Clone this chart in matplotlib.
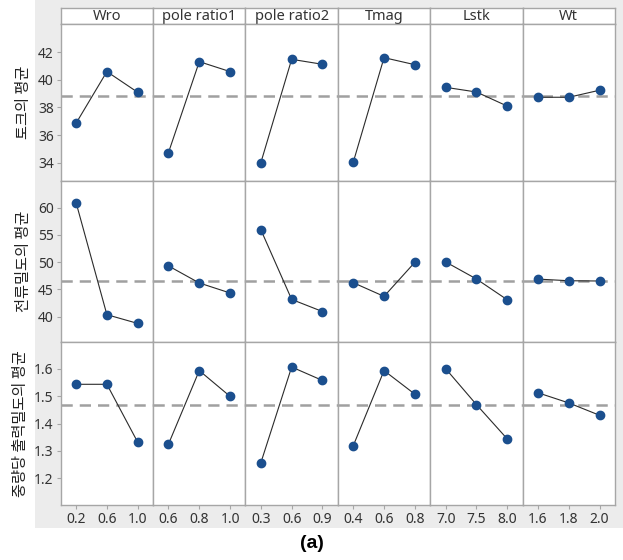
import matplotlib
matplotlib.use("Agg")
import matplotlib.pyplot as plt
from matplotlib.patches import Rectangle

plt.rcParams['font.family'] = ['Noto Sans', 'Noto Sans CJK KR', 'DejaVu Sans']

# ---------------- data ----------------
factors = ["Wro", "pole ratio1", "pole ratio2", "Tmag", "Lstk", "Wt"]
levels = [
    ["0.2", "0.6", "1.0"],
    ["0.6", "0.8", "1.0"],
    ["0.3", "0.6", "0.9"],
    ["0.4", "0.6", "0.8"],
    ["7.0", "7.5", "8.0"],
    ["1.6", "1.8", "2.0"],
]
row_labels = ["토크의 평균", "전류밀도의 평균", "중량당 출력밀도의 평균"]

torque_means = [
    [36.86, 40.60, 39.10],
    [34.73, 41.32, 40.60],
    [34.00, 41.49, 41.13],
    [34.03, 41.61, 41.10],
    [39.46, 39.12, 38.10],
    [38.74, 38.74, 39.25],
]
current_means = [
    [60.92, 40.37, 38.77],
    [49.32, 46.19, 44.35],
    [55.95, 43.17, 40.95],
    [46.24, 43.73, 49.98],
    [50.05, 46.92, 43.11],
    [46.90, 46.60, 46.55],
]
power_means = [
    [1.543, 1.543, 1.332],
    [1.325, 1.593, 1.499],
    [1.257, 1.606, 1.557],
    [1.319, 1.593, 1.507],
    [1.600, 1.469, 1.344],
    [1.512, 1.475, 1.430],
]
grand_means = [38.83, 46.60, 1.469]
y_ticks = [[34, 36, 38, 40, 42], [40, 45, 50, 55, 60], [1.2, 1.3, 1.4, 1.5, 1.6]]
y_limits = [(32.67, 44.05), (35.45, 64.9), (1.103, 1.699)]
y_fmt = ["{:.0f}", "{:.0f}", "{:.1f}"]
all_rows = [torque_means, current_means, power_means]

# ---------------- layout ----------------
W, H = 623, 560
fig = plt.figure(figsize=(W / 100, H / 100), dpi=100)
fig.patch.set_facecolor("white")

# gray Minitab-like background region
bg = Rectangle((35 / W, 1 - 528 / H), (623 - 35) / W, 528 / H,
               transform=fig.transFigure, facecolor="#ececec",
               edgecolor="none", zorder=-10)
fig.patches.append(bg)

left, right = 60.7, 615.0
col_w = (right - left) / 6
strip_top, strip_bot = 8.0, 24.0
row_edges = [24.0, 181.0, 341.5, 505.0]

border = "#a6a6a6"
marker_c = "#1b4f8e"
line_c = "#2b2b2b"
mean_c = "#a0a0a0"
text_c = "#333333"


def fig_rect(x0, y0, x1, y1):
    return [x0 / W, 1 - y1 / H, (x1 - x0) / W, (y1 - y0) / H]


for c, name in enumerate(factors):
    x0 = left + c * col_w
    x1 = x0 + col_w
    sax = fig.add_axes(fig_rect(x0, strip_top, x1, strip_bot))
    sax.set_facecolor("white")
    sax.set_xticks([])
    sax.set_yticks([])
    for s in sax.spines.values():
        s.set_color(border)
        s.set_linewidth(1.0)
    sax.text(0.5, 0.45, name, ha="center", va="center", fontsize=10.5,
             color=text_c, transform=sax.transAxes)

label_axes = []
for r in range(3):
    y0, y1 = row_edges[r], row_edges[r + 1]
    for c in range(6):
        x0 = left + c * col_w
        x1 = x0 + col_w
        ax = fig.add_axes(fig_rect(x0, y0, x1, y1))
        ax.set_facecolor("white")
        vals = all_rows[r][c]
        xs = list(range(len(vals)))
        ax.axhline(grand_means[r], color=mean_c, lw=1.8, ls=(0, (4.5, 2.8)), zorder=1)
        ax.plot(xs, vals, color=line_c, lw=0.8, zorder=2)
        ax.plot(xs, vals, ls="none", marker="o", ms=6, color=marker_c,
                markeredgecolor=marker_c, zorder=3)
        ax.set_xlim(-0.5, 2.5)
        ax.set_ylim(*y_limits[r])
        for s in ax.spines.values():
            s.set_color(border)
            s.set_linewidth(1.0)
        ax.set_yticks(y_ticks[r])
        if c == 0:
            ax.set_yticklabels([y_fmt[r].format(v) for v in y_ticks[r]],
                               fontsize=10, color=text_c)
            ax.tick_params(axis="y", length=3, width=0.8, color=border, pad=2)
            ax.set_ylabel(row_labels[r], fontsize=11, color="#222222",
                          family=['Noto Sans CJK KR', 'DejaVu Sans'], labelpad=4)
            label_axes.append(ax)
        else:
            ax.tick_params(axis="y", length=0, labelleft=False)
        ax.set_xticks(xs)
        if r == 2:
            ax.set_xticklabels(levels[c], fontsize=10, color=text_c)
            ax.tick_params(axis="x", length=3, width=0.8, color=border, pad=2)
        else:
            ax.tick_params(axis="x", length=0, labelbottom=False)

fig.align_ylabels(label_axes)

fig.text(312 / W, 1 - 543 / H, "(a)", ha="center", va="center",
         fontsize=14, fontweight="bold", family=['Liberation Sans', 'DejaVu Sans'],
         color="black")

fig.savefig("out.png", dpi=100, facecolor=fig.get_facecolor())
